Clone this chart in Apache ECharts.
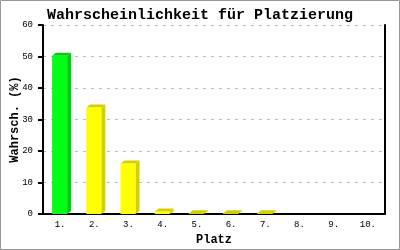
<!DOCTYPE html>
<html><head><meta charset="utf-8">
<script src="https://cdn.jsdelivr.net/npm/echarts@6/dist/echarts.min.js"></script>
<style>html,body{margin:0;padding:0;background:#fff}#c{width:400px;height:250px}</style>
</head><body><div id="c"></div>
<script>
const categories = ['1.','2.','3.','4.','5.','6.','7.','8.','9.','10.'];
const values = [50.2, 33.8, 16.0, 0.8, 0.25, 0.25, 0.25, 0, 0, 0];
const yTicks = [0, 10, 20, 30, 40, 50, 60];

const FONT = '"Liberation Mono","DejaVu Sans Mono",monospace';
const chart = echarts.init(document.getElementById('c'), null, {renderer:'canvas'});

function renderBar(params, api) {
  const v = api.value(1);
  if (!(v > 0)) return null;
  const idx = api.value(0);
  const top = api.coord([idx, v]);
  const base = api.coord([idx, 0]);
  const w = 15, d = 4, h = 3;
  const x0 = top[0] - 8, x1 = x0 + w;
  const yT = top[1], yB = base[1];
  const front = params.dataIndex === 0 ? '#00ff14' : '#ffff00';
  const dark = params.dataIndex === 0 ? '#00cc10' : '#d4d000';
  return {
    type: 'group',
    children: [
      {type:'polygon', shape:{points:[[x1,yT],[x1+d,yT-h],[x1+d,yB-h],[x1,yB]]}, style:{fill:dark}},
      {type:'polygon', shape:{points:[[x0,yT],[x0+d,yT-h],[x1+d,yT-h],[x1,yT]]}, style:{fill:dark}},
      {type:'rect', shape:{x:x0, y:yT, width:w, height:Math.max(0, yB-yT)}, style:{fill:front}}
    ]
  };
}

chart.setOption({
  animation:false,
  backgroundColor:'#fff',
  title:{text:'Wahrscheinlichkeit für Platzierung', left:'center', top:3,
    textStyle:{fontFamily:FONT, fontSize:15, fontWeight:'bold', color:'#000'}},
  grid:{left:43, right:15, top:25, bottom:36, containLabel:false, outerBoundsMode:'none'},
  xAxis:{type:'category', data:categories,
    name:'Platz', nameLocation:'middle', nameGap:20, nameMoveOverlap:false,
    nameTextStyle:{fontFamily:FONT, fontSize:12, fontWeight:'bold', color:'#000'},
    axisLine:{lineStyle:{color:'#000', width:2}}, axisTick:{show:false},
    axisLabel:{fontFamily:FONT, fontSize:9, color:'#000', margin:6}},
  yAxis:[{type:'value', min:yTicks[0], max:yTicks[yTicks.length-1], interval:10,
    name:'Wahrsch. (%)', nameLocation:'middle', nameGap:22, nameMoveOverlap:false,
    nameTextStyle:{fontFamily:FONT, fontSize:12, fontWeight:'bold', color:'#000'},
    axisLine:{show:true, lineStyle:{color:'#000', width:2}},
    axisTick:{show:true, length:5, lineStyle:{color:'#000', width:2}},
    axisLabel:{fontFamily:FONT, fontSize:9, color:'#000', margin:10},
    splitLine:{show:true, lineStyle:{color:'#bbb', type:[3,5], width:1}}},
   {type:'value', position:'right', min:0, max:60, interval:10,
    axisLine:{show:true, lineStyle:{color:'#000', width:2}}, axisTick:{show:false},
    axisLabel:{show:false}, splitLine:{show:false}}],
  graphic:[{type:'rect', shape:{x:0.5, y:0.5, width:399, height:249},
    style:{fill:null, stroke:'#999', lineWidth:1}, silent:true}],
  series:[{type:'custom', renderItem:renderBar,
    data: values.map((v,i)=>[i, v]), encode:{x:0, y:1}}]
});
</script></body></html>
